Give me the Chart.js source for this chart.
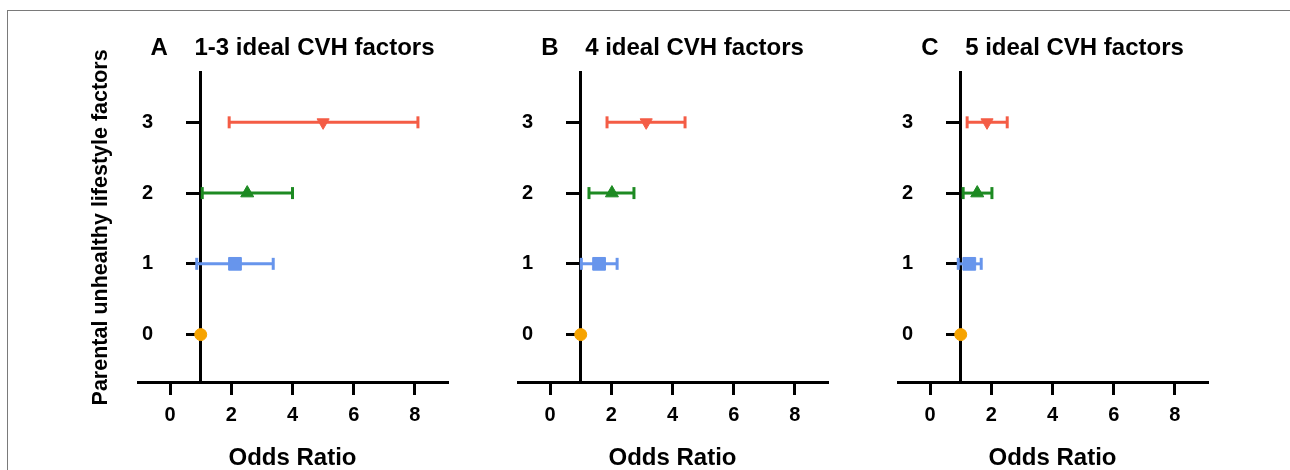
<!DOCTYPE html>
<html>
<head>
<meta charset="utf-8">
<script src="https://cdn.jsdelivr.net/npm/chart.js@4.4.1/dist/chart.umd.min.js"></script>
<style>
  body { margin: 0; background: #fff; }
  #wrap { position: relative; width: 1290px; height: 470px; overflow: hidden; }
  #frame { position: absolute; left: 7px; top: 10px; width: 1400px; height: 600px;
           border-top: 1.5px solid #7a7a7a; border-left: 1.5px solid #7a7a7a; }
  canvas { position: absolute; top: 0; }
</style>
</head>
<body>
<div id="wrap">
  <div id="frame"></div>
  <canvas id="panel-a" width="470" height="470" style="left:0px"></canvas>
  <canvas id="panel-b" width="470" height="470" style="left:380px"></canvas>
  <canvas id="panel-c" width="470" height="470" style="left:760px"></canvas>
</div>
<script>
// parental unhealthy lifestyle factors (rows) and x ticks
var rows = [0, 1, 2, 3];
var xTicks = [0, 2, 4, 6, 8];

// odds ratio with 95% CI, one list per panel
var orA = [1, 2.12, 2.52, 5.0];
var loA = [1, 0.87, 1.05, 1.93];
var hiA = [1, 3.37, 4.0, 8.1];

var orB = [1, 1.6, 2.02, 3.14];
var loB = [1, 1.02, 1.27, 1.86];
var hiB = [1, 2.19, 2.74, 4.41];

var orC = [1, 1.28, 1.54, 1.86];
var loC = [1, 0.92, 1.08, 1.21];
var hiC = [1, 1.67, 2.02, 2.52];

var colors = ['#f6a300', '#6795ec', '#1d8a22', '#f45c45'];
var shapes = ['circle', 'rect', 'triangle', 'triangle'];
var turns = [0, 0, 0, 180];
var sizes = [6, 9, 7.5, 7];

var font = 'Arial, "Liberation Sans", Helvetica, sans-serif';
var yMin = -0.67, yMax = 3.7;

function rowTicks(scale) {
    scale.ticks = rows.map(function (v) { return {value: v}; });
}

function makePanel(id, title, or, lo, hi, yTitle) {
    var datasets = [];
    // markers first so they are drawn on top
    rows.forEach(function (r, i) {
        datasets.push({
            type: 'scatter',
            data: [{x: or[i], y: r}],
            pointStyle: shapes[i],
            rotation: turns[i],
            pointRadius: sizes[i],
            backgroundColor: colors[i],
            borderColor: colors[i],
            borderWidth: 1,
            clip: false
        });
    });
    rows.forEach(function (r, i) {
        if (lo[i] === hi[i]) return;
        datasets.push({
            type: 'line',
            data: [{x: lo[i], y: r}, {x: hi[i], y: r}],
            borderColor: colors[i],
            borderWidth: 3,
            pointStyle: 'line',
            rotation: 90,
            pointRadius: 6,
            pointBorderWidth: 3,
            pointBorderColor: colors[i],
            clip: false
        });
    });

    new Chart(document.getElementById(id), {
        type: 'scatter',
        data: {datasets: datasets},
        options: {
            responsive: false,
            devicePixelRatio: 1,
            animation: false,
            events: [],
            layout: {padding: {left: 0, right: 23, top: 0, bottom: 0}},
            plugins: {
                legend: {display: false},
                tooltip: {enabled: false},
                title: {
                    display: true,
                    fullSize: false,
                    text: title,
                    color: '#000',
                    font: {family: font, size: 24, weight: 'bold'},
                    padding: {top: 34, bottom: 10}
                }
            },
            scales: {
                x: {
                    type: 'linear',
                    position: 'bottom',
                    min: -1.05,
                    max: 9.05,
                    afterBuildTicks: function (scale) {
                        scale.ticks = xTicks.map(function (v) { return {value: v}; });
                    },
                    afterFit: function (scale) { scale.height = 88; },
                    border: {display: true, color: '#000', width: 3},
                    grid: {drawOnChartArea: false, drawTicks: true, tickLength: 13, color: '#000', lineWidth: 3},
                    ticks: {color: '#000', padding: 8, font: {family: font, size: 20, weight: 'bold'}},
                    title: {
                        display: true,
                        text: 'Odds Ratio',
                        color: '#000',
                        font: {family: font, size: 24, weight: 'bold'},
                        padding: {top: 0, bottom: -3}
                    }
                },
                // axis line and tick marks crossing at OR = 1
                y: {
                    type: 'linear',
                    position: {x: 1},
                    min: yMin,
                    max: yMax,
                    afterBuildTicks: rowTicks,
                    border: {display: true, color: '#000', width: 3},
                    grid: {drawOnChartArea: false, drawTicks: true, tickLength: 13, color: '#000', lineWidth: 3},
                    ticks: {display: false}
                },
                // row labels and axis title on the left
                yLabels: {
                    type: 'linear',
                    axis: 'y',
                    position: 'left',
                    min: yMin,
                    max: yMax,
                    afterBuildTicks: rowTicks,
                    afterFit: function (scale) { scale.width = 138; },
                    border: {display: false},
                    grid: {display: false, drawTicks: false},
                    ticks: {
                        color: '#000',
                        mirror: true,
                        crossAlign: 'far',
                        padding: 4,
                        font: {family: font, size: 20, weight: 'bold'}
                    },
                    title: {
                        display: yTitle,
                        text: 'Parental unhealthy lifestyle factors',
                        color: '#000',
                        font: {family: font, size: 21.5, weight: 'bold'},
                        padding: {top: 88, bottom: 0}
                    }
                }
            }
        }
    });
}

makePanel('panel-a', 'A    1-3 ideal CVH factors', orA, loA, hiA, true);
makePanel('panel-b', 'B    4 ideal CVH factors', orB, loB, hiB, false);
makePanel('panel-c', 'C    5 ideal CVH factors', orC, loC, hiC, false);
</script>
</body>
</html>
